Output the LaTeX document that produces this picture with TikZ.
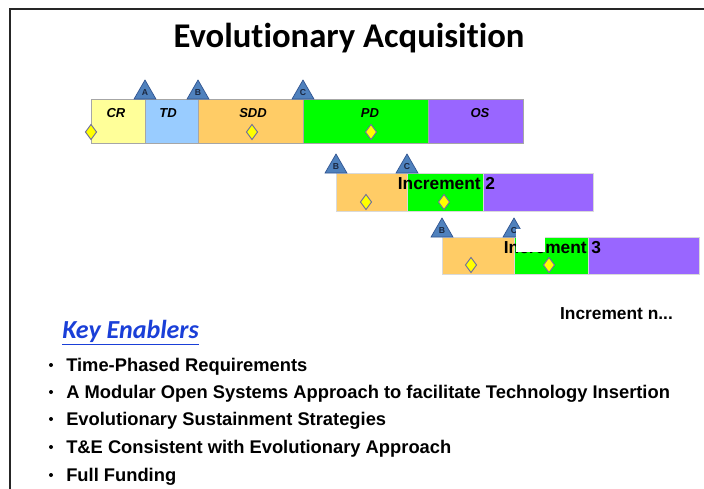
\documentclass[tikz,border=0pt]{standalone}
\usepackage{fontspec}
\setmainfont{Liberation Sans}
\newfontfamily\calfont[Ligatures=NoCommon]{Carlito}
\usetikzlibrary{shapes.geometric,fit}

\definecolor{crfill}{HTML}{FFFF99}
\definecolor{tdfill}{HTML}{99CCFF}
\definecolor{sddfill}{HTML}{FFCC66}
\definecolor{pdfill}{HTML}{00FF00}
\definecolor{osfill}{HTML}{9966FF}
\definecolor{gatefill}{HTML}{4F81BD}
\definecolor{gatedraw}{HTML}{2F528F}
\definecolor{gatetext}{HTML}{1A2740}
\definecolor{milefill}{HTML}{FFFF00}
\definecolor{miledraw}{HTML}{6F6F9F}
\definecolor{keyblue}{HTML}{1A3FD8}

\begin{document}
\begin{tikzpicture}[x=0.75pt,y=-0.75pt,
  frame/.style={line width=1.6pt,draw=black!85},
  maintitle/.style={font=\calfont\bfseries\fontsize{26}{31}\selectfont,inner sep=0pt},
  seg/.style={draw=gray!70,line width=0.6pt,inner sep=0pt,outer sep=0pt},
  incseg/.style={draw=gray!30,line width=0.6pt,inner sep=0pt,outer sep=0pt},
  barlbl/.style={font=\bfseries\itshape\fontsize{9.75}{11}\selectfont,inner sep=0pt},
  gate/.style={regular polygon,regular polygon sides=3,minimum size=19pt,
    inner sep=0pt,outer sep=0pt,fill=gatefill,draw=gatedraw,line width=0.5pt,
    anchor=side 2,font=\bfseries\fontsize{6.5}{7}\selectfont,text=gatetext},
  mile/.style={diamond,minimum width=8.6pt,minimum height=11.6pt,inner sep=0pt,
    fill=milefill,draw=miledraw,line width=0.7pt},
  inclbl/.style={font=\bfseries\fontsize{13}{15}\selectfont,inner sep=0pt},
  bullettext/.style={font=\bfseries\fontsize{13.75}{16}\selectfont,inner sep=0pt,anchor=base west},
  bdot/.style={circle,fill=black,minimum size=3pt,inner sep=0pt}
]
\useasboundingbox (0,0) rectangle (704,489);
\fill[white] (0,0) rectangle (704,489);

% frame edges
\draw[frame] (10,489) -- (10,9) -- (704,9);

% heading
\node[maintitle,anchor=base] (heading) at (349,47) {Evolutionary Acquisition};

% ---- first increment: full life cycle ----
\node[seg,fill=crfill, fit={(91,99)(145,143)}]  (cr)  {};
\node[seg,fill=tdfill, fit={(145,99)(198,143)}] (td)  {};
\node[seg,fill=sddfill,fit={(198,99)(303,143)}] (sdd) {};
\node[seg,fill=pdfill, fit={(303,99)(428,143)}] (pd)  {};
\node[seg,fill=osfill, fit={(428,99)(523,143)}] (os)  {};

\node[barlbl] (crl)  at (116,113) {CR};
\node[barlbl] (tdl)  at (168,113) {TD};
\node[barlbl] (sddl) at (253,113) {SDD};
\node[barlbl] (pdl)  at (370,113) {PD};
\node[barlbl] (osl)  at (480,113) {OS};

\node[gate] (ga1) at (cr.north east)  {A};
\node[gate] (gb1) at (td.north east)  {B};
\node[gate] (gc1) at (sdd.north east) {C};

\node[mile] (m11) at (91,132)  {};
\node[mile] (m12) at (252,132) {};
\node[mile] (m13) at (371,132) {};

% ---- increment 2 ----
\node[incseg,fill=sddfill,fit={(336,173)(407,211)}] (sdd2) {};
\node[incseg,fill=pdfill, fit={(407,173)(483,211)}] (pd2)  {};
\node[incseg,fill=osfill, fit={(483,173)(593,211)}] (os2)  {};

\node[inclbl] (inc2) at (446.5,183.5) {Increment 2};

\node[gate] (gb2) at (sdd2.north west) {B};
\node[gate] (gc2) at (pd2.north west)  {C};

\node[mile] (m21) at (366,202) {};
\node[mile] (m22) at (444,202) {};

% ---- increment 3 ----
\node[incseg,fill=sddfill,fit={(442,237)(514,274)}] (sdd3) {};
\node[incseg,fill=pdfill, fit={(514,237)(588,274)}] (pd3)  {};
\node[incseg,fill=osfill, fit={(588,237)(699,274)}] (os3)  {};

\node[inclbl] (inc3) at (552.5,247.5) {Increment 3};

\node[gate] (gb3) at (sdd3.north west) {B};
\node[gate] (gc3) at (pd3.north west)  {C};

\node[mile] (m31) at (471,265) {};
\node[mile] (m32) at (549,265) {};

% white patch lying over the third label
\fill[white] (516,229) rectangle (545,252);

% ---- further increments ----
\node[inclbl] (incn) at (616.5,314) {Increment n...};

% ---- enablers list ----
\node[font=\calfont\bfseries\itshape\fontsize{19.5}{23}\selectfont,text=keyblue,
  inner sep=0pt,anchor=base west] (keys) at (62,338) {\underline{Key Enablers}};

\node[bdot] (d1) at (51,365) {};
\node[bullettext] (b1) at (66,371.5) {Time-Phased Requirements};
\node[bdot] (d2) at (51,392) {};
\node[bullettext] (b2) at (66,398.5) {A Modular Open Systems Approach to facilitate Technology Insertion};
\node[bdot] (d3) at (51,419) {};
\node[bullettext] (b3) at (66,425.5) {Evolutionary Sustainment Strategies};
\node[bdot] (d4) at (51,447) {};
\node[bullettext] (b4) at (66,453.5) {T\&E Consistent with Evolutionary Approach};
\node[bdot] (d5) at (51,475) {};
\node[bullettext] (b5) at (66,481.5) {Full Funding};
\end{tikzpicture}
\end{document}
